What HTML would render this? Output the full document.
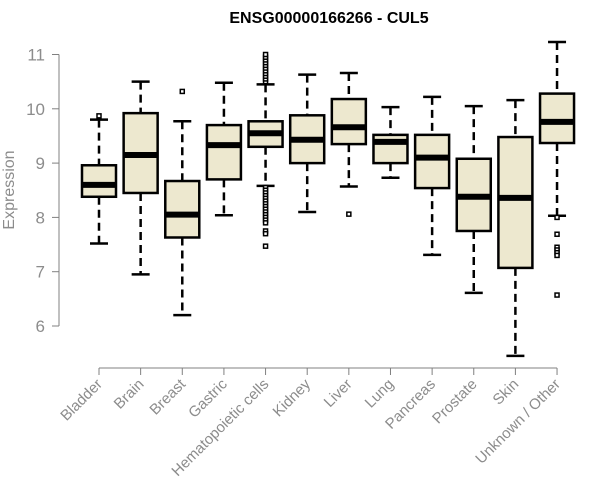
<!DOCTYPE html>
<html><head><meta charset="utf-8"><style>
html,body{margin:0;padding:0;background:#fff;}
svg{display:block;font-family:"Liberation Sans",Arial,sans-serif;}
</style></head><body>
<svg id="chart" width="600" height="500">
<text x="329" y="23" text-anchor="middle" font-weight="bold" font-size="16" fill="#000">ENSG00000166266 - CUL5</text>
<text transform="translate(14,190) rotate(-90)" text-anchor="middle" font-size="16" fill="#8c8c8c">Expression</text>
<g id="axes"></g>
<g id="boxes"></g>
</svg>
<script>
const categories=["Bladder","Brain","Breast","Gastric","Hematopoietic cells","Kidney","Liver","Lung","Pancreas","Prostate","Skin","Unknown / Other"];
const lowWhisker=[7.52,6.95,6.2,8.04,8.58,8.1,8.57,8.73,7.31,6.61,5.45,8.03];
const q1=[8.38,8.45,7.63,8.7,9.3,9.0,9.35,9.0,8.54,7.75,7.07,9.37];
const median=[8.6,9.15,8.05,9.33,9.55,9.43,9.66,9.39,9.1,8.38,8.36,9.76];
const q3=[8.96,9.92,8.67,9.7,9.77,9.88,10.18,9.52,9.52,9.08,9.48,10.28];
const highWhisker=[9.8,10.5,9.77,10.48,10.45,10.63,10.66,10.03,10.22,10.05,10.16,11.23];
const outliers=[[9.87],[],[10.32],[],
 [10.5,10.55,10.6,10.65,10.7,10.75,10.8,10.85,10.9,10.95,11.0,8.55,8.5,8.45,8.4,8.35,8.3,8.25,8.2,8.15,8.1,8.05,8.0,7.95,7.9,7.75,7.7,7.47],
 [],[8.06],[],[],[],[],[8.0,7.69,7.45,7.4,7.35,7.3,6.57]];
const yTicks=[6,7,8,9,10,11];
const NS="http://www.w3.org/2000/svg";
const y=v=>326-(v-6)*54.3;
const x=i=>99+i*41.64;
const bw=34;
function mk(tag,attrs,parent){const e=document.createElementNS(NS,tag);for(const k in attrs)e.setAttribute(k,attrs[k]);parent.appendChild(e);return e;}
const ax=document.getElementById('axes'), bx=document.getElementById('boxes');
let yl=mk('line',{x1:59,x2:59,y1:y(11),y2:y(6),stroke:'#808080'},ax);


yTicks.forEach(t=>{
 let tk=mk('line',{x1:52,x2:59,y1:y(t),y2:y(t),stroke:'#808080'},ax);
 
 
 let tl=mk('text',{x:45,y:y(t)+6,'text-anchor':'end','font-size':17,fill:'#8c8c8c'},ax);
 tl.textContent=t;
 
 
});
let xl=mk('line',{x1:x(0),x2:x(11),y1:368,y2:368,stroke:'#808080'},ax);


categories.forEach((c,i)=>{
 let tk=mk('line',{x1:x(i),x2:x(i),y1:368,y2:375,stroke:'#808080'},ax);
 
 
 let t=mk('text',{transform:`translate(${x(i)+4},385) rotate(-45)`,'text-anchor':'end','font-size':15,fill:'#8c8c8c'},ax);
 t.textContent=c;
 
 
 const g=mk('g',{},bx);
 
 
 const cx=x(i);
 mk('line',{x1:cx,x2:cx,y1:y(highWhisker[i]),y2:y(q3[i]),stroke:'#000','stroke-width':2.5,'stroke-dasharray':'8,5'},g);
 mk('line',{x1:cx,x2:cx,y1:y(q1[i]),y2:y(lowWhisker[i]),stroke:'#000','stroke-width':2.5,'stroke-dasharray':'8,5'},g);
 mk('line',{x1:cx-9,x2:cx+9,y1:y(highWhisker[i]),y2:y(highWhisker[i]),stroke:'#000','stroke-width':2.5},g);
 mk('line',{x1:cx-9,x2:cx+9,y1:y(lowWhisker[i]),y2:y(lowWhisker[i]),stroke:'#000','stroke-width':2.5},g);
 mk('rect',{x:cx-bw/2,y:y(q3[i]),width:bw,height:y(q1[i])-y(q3[i]),fill:'#ede8cf',stroke:'#000','stroke-width':2.5},g);
 mk('line',{x1:cx-bw/2,x2:cx+bw/2,y1:y(median[i]),y2:y(median[i]),stroke:'#000','stroke-width':6},g);
 outliers[i].forEach(v=>{
  mk('rect',{x:cx-2,y:y(v)-2,width:4,height:4,fill:'#fff',stroke:'#000','stroke-width':1.5},g);
 });
});
</script>
</body></html>
